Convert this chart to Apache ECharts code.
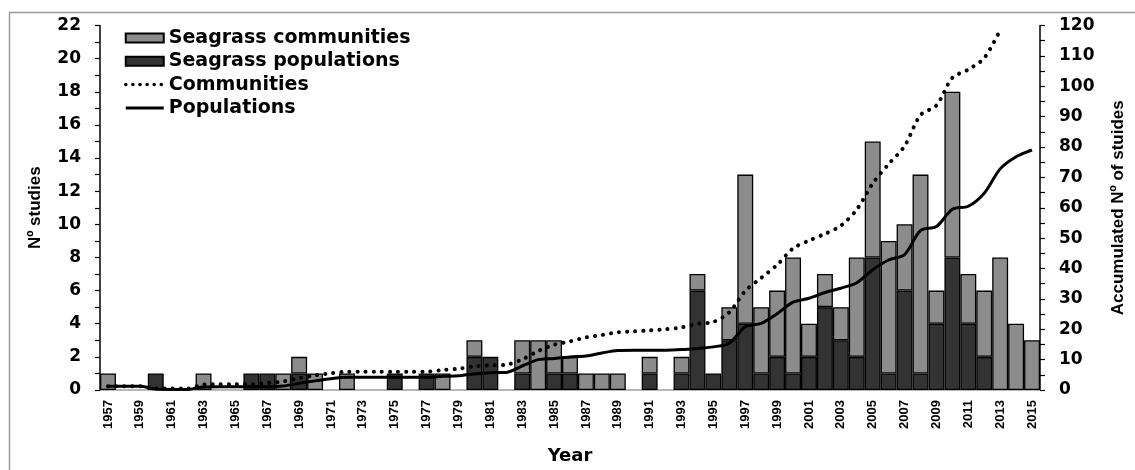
<!DOCTYPE html>
<html>
<head>
<meta charset="utf-8">
<script src="https://cdn.jsdelivr.net/npm/echarts@6/dist/echarts.min.js"></script>
<style>html,body{margin:0;padding:0;background:#fff}#c{width:1135px;height:470px}</style>
</head>
<body>
<div id="c"></div>
<script>
var years = ['1957','1958','1959','1960','1961','1962','1963','1964','1965','1966','1967','1968','1969','1970','1971','1972','1973','1974','1975','1976','1977','1978','1979','1980','1981','1982','1983','1984','1985','1986','1987','1988','1989','1990','1991','1992','1993','1994','1995','1996','1997','1998','1999','2000','2001','2002','2003','2004','2005','2006','2007','2008','2009','2010','2011','2012','2013','2014','2015'];

// Studies per year (stacked bars)
var seagrassPopulations = [0,0,0,1,0,0,0,0,0,1,1,0,1,0,0,0,0,0,1,0,1,0,0,2,2,0,1,0,1,1,0,0,0,0,1,0,1,6,1,3,4,1,2,1,2,5,3,2,8,1,6,1,4,8,4,2,0,0,0];
var seagrassCommunities = [1,0,0,0,0,0,1,0,0,0,0,1,1,1,0,1,0,0,0,0,0,1,0,1,0,0,2,3,2,1,1,1,1,0,1,0,1,1,0,2,9,4,4,7,2,2,2,6,7,8,4,12,2,10,3,4,8,4,3];

// Accumulated number of studies (right axis)
var accCommunities = [1.2,1.2,1.2,0.5,0.5,0.5,1.8,1.9,1.9,1.9,2.3,2.8,3.9,4.8,5.5,6.0,6.0,6.0,6.0,6.0,6.0,6.6,7.0,7.8,8.1,8.3,10.1,12.8,14.9,16.0,17.3,18.1,19.0,19.3,19.6,20.0,20.6,21.8,22.4,25.6,32.6,36.9,41.2,46.6,49.2,51.4,54.1,59.4,68.0,74.4,80.3,90.5,93.7,102.8,105.5,109.3,118.5,null,null];
var accPopulations = [1.2,1.2,1.2,0.3,0.2,0.2,1.0,1.1,1.1,1.1,1.1,1.3,2.2,3.0,3.7,4.2,4.2,4.2,4.2,4.2,4.2,4.5,4.7,5.3,5.7,5.8,7.9,10.0,10.4,10.9,11.2,12.2,13.0,13.1,13.1,13.1,13.3,13.7,14.2,15.4,20.8,21.9,25.1,28.9,30.2,32.1,33.5,35.3,39.6,42.8,44.6,52.5,53.8,59.5,60.5,64.8,72.8,76.8,79.0];

var leftTicks = {min: 0, max: 22, interval: 2};
var rightTicks = {min: 0, max: 120, interval: 10};

function noZero(arr){ return arr.map(function(v){ return v === 0 ? '-' : v; }); }

var hFont = 'DejaVu Sans';
var rFont = 'Liberation Sans';

var chart = echarts.init(document.getElementById('c'), null, {renderer: 'canvas'});
chart.setOption({
  animation: false,
  backgroundColor: '#fff',
  graphic: [{
    type: 'rect', left: 7, top: 10, silent: true, z: -10,
    shape: {width: 1140, height: 470},
    style: {fill: 'none', stroke: '#9a9a9a', lineWidth: 1.5}
  }],
  grid: {left: 100, right: 92, top: 25.5, bottom: 73},
  legend: {
    orient: 'vertical', left: 124, top: 28, padding: 0,
    itemWidth: 38, itemHeight: 9, itemGap: 3.3,
    data: [
      {name: 'Seagrass communities', icon: 'rect'},
      {name: 'Seagrass populations', icon: 'rect'},
      {name: 'Communities', itemStyle: {opacity: 0}, lineStyle: {width: 3.5, type: [0.1, 7], cap: 'round'}},
      {name: 'Populations', itemStyle: {opacity: 0}, lineStyle: {width: 3}}
    ],
    textStyle: {fontFamily: hFont, fontWeight: 'bold', fontSize: 19, color: '#000', lineHeight: 20}
  },
  xAxis: {
    type: 'category', data: years,
    axisLine: {lineStyle: {color: '#a0a0a0', width: 1.5}},
    axisTick: {interval: 0, length: 3, lineStyle: {color: '#555'}},
    axisLabel: {interval: 1, rotate: 90, margin: 10, fontFamily: rFont, fontWeight: 'bold', fontSize: 13, color: '#000'},
    name: 'Year', nameLocation: 'middle', nameGap: 57,
    nameTextStyle: {fontFamily: hFont, fontWeight: 'bold', fontSize: 18, color: '#000'}
  },
  yAxis: [{
    type: 'value', min: leftTicks.min, max: leftTicks.max, interval: leftTicks.interval,
    axisLine: {show: true, lineStyle: {color: '#000', width: 1.5}},
    axisTick: {show: true, length: 5, lineStyle: {color: '#000', width: 1.2}},
    minorTick: {show: true, splitNumber: 2, length: 5, lineStyle: {color: '#000', width: 1.2}},
    splitLine: {show: false},
    axisLabel: {margin: 19, fontFamily: hFont, fontWeight: 'bold', fontSize: 17, color: '#000'},
    name: 'Nº studies', nameLocation: 'middle', nameRotate: 90, nameGap: 56,
    nameTextStyle: {fontFamily: rFont, fontWeight: 'bold', fontSize: 17, color: '#000'}
  }, {
    type: 'value', min: rightTicks.min, max: rightTicks.max, interval: rightTicks.interval,
    position: 'right',
    axisLine: {show: true, lineStyle: {color: '#000', width: 1.5}},
    axisTick: {show: true, length: 5, lineStyle: {color: '#000', width: 1.2}},
    minorTick: {show: true, splitNumber: 2, length: 5, lineStyle: {color: '#000', width: 1.2}},
    splitLine: {show: false},
    axisLabel: {margin: 19, fontFamily: hFont, fontWeight: 'bold', fontSize: 17, color: '#000'},
    name: 'Accumulated Nº of stuides', nameLocation: 'middle', nameRotate: 90, nameGap: 70,
    nameTextStyle: {fontFamily: rFont, fontWeight: 'bold', fontSize: 17, color: '#000'}
  }],
  series: [{
    name: 'Seagrass populations', type: 'bar', stack: 'studies', barCategoryGap: '0%',
    data: noZero(seagrassPopulations),
    itemStyle: {color: '#333333', borderColor: '#000', borderWidth: 1.3}
  }, {
    name: 'Seagrass communities', type: 'bar', stack: 'studies', barCategoryGap: '0%',
    data: noZero(seagrassCommunities),
    itemStyle: {color: '#8c8c8c', borderColor: '#000', borderWidth: 1.3}
  }, {
    name: 'Communities', type: 'line', yAxisIndex: 1, data: accCommunities,
    symbol: 'none', smooth: 0.3, z: 5,
    itemStyle: {color: '#000'},
    lineStyle: {color: '#000', width: 4, type: [0.1, 8], cap: 'round'}
  }, {
    name: 'Populations', type: 'line', yAxisIndex: 1, data: accPopulations,
    symbol: 'none', smooth: 0.3, z: 6,
    itemStyle: {color: '#000'},
    lineStyle: {color: '#000', width: 3}
  }]
});
</script>
</body>
</html>
